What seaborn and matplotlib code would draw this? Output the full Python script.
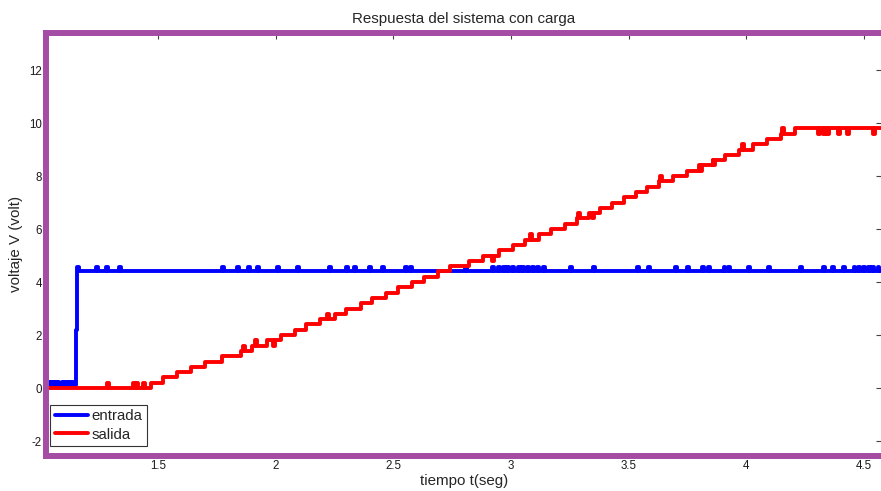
import numpy as np
import pandas as pd
import matplotlib
matplotlib.use("Agg")
import matplotlib.pyplot as plt
import seaborn as sns

# ---- data -------------------------------------------------------------
T_MIN, T_MAX = 1.022, 4.578

# input (entrada): step levels and the instants they start
entrada_step_t = [1.022, 1.1485, 1.155, 1.161]
entrada_step_v = [0.10, 2.20, 4.58, 4.40]
# short noise pulses on the input signal
entrada_pulse_t = [1.035, 1.048, 1.062, 1.071, 1.088, 1.104, 1.118, 1.132,
                   1.235, 1.277, 1.333, 1.771, 1.835, 1.882, 1.920, 2.005,
                   2.090, 2.226, 2.299, 2.333, 2.397, 2.452, 2.550, 2.571,
                   2.805, 2.920, 2.946, 2.967, 2.984, 3.005, 3.031, 3.048,
                   3.069, 3.090, 3.112, 3.137, 3.252, 3.350, 3.537, 3.584,
                   3.699, 3.750, 3.814, 3.840, 3.904, 3.925, 4.010, 4.095,
                   4.231, 4.329, 4.367, 4.414, 4.457, 4.478, 4.499, 4.520,
                   4.537, 4.559]
entrada_pulse_v = [0.22] * 8 + [4.58] * 50

# output (salida): quantised staircase ramp
salida_step_t = [1.022, 1.468, 1.52, 1.58, 1.64, 1.70, 1.77, 1.85, 1.90, 1.96,
                 2.02, 2.08, 2.13, 2.19, 2.25, 2.30, 2.36, 2.41, 2.47, 2.52,
                 2.58, 2.63, 2.69, 2.74, 2.82, 2.88, 2.95, 3.01, 3.06, 3.12,
                 3.17, 3.23, 3.28, 3.33, 3.38, 3.43, 3.48, 3.53, 3.58, 3.63,
                 3.69, 3.75, 3.80, 3.86, 3.91, 3.97, 4.03, 4.09, 4.15, 4.21]
salida_step_v = [0.0, 0.2, 0.4, 0.6, 0.8, 1.0, 1.2, 1.4, 1.6, 1.8,
                 2.0, 2.2, 2.4, 2.6, 2.8, 3.0, 3.2, 3.4, 3.6, 3.8,
                 4.0, 4.2, 4.4, 4.6, 4.8, 5.0, 5.2, 5.4, 5.6, 5.8,
                 6.0, 6.2, 6.4, 6.6, 6.8, 7.0, 7.2, 7.4, 7.6, 7.8,
                 8.0, 8.2, 8.4, 8.6, 8.8, 9.0, 9.2, 9.4, 9.6, 9.8]
# single-sample glitches on the output
salida_pulse_t = [1.282, 1.393, 1.406, 1.435, 1.860, 1.911, 1.988, 2.188,
                  2.218, 2.920, 3.082, 3.286, 3.345, 3.634, 3.805, 3.860,
                  3.983, 4.153, 4.306, 4.328, 4.345, 4.391, 4.430, 4.540]
salida_pulse_v = [0.2, 0.2, 0.2, 0.2, 1.6, 1.8, 1.6, 2.6,
                  2.8, 4.8, 5.8, 6.6, 6.4, 8.0, 8.2, 8.4,
                  9.2, 9.8, 9.6, 9.6, 9.6, 9.6, 9.6, 9.6]

x_ticks = [1.5, 2, 2.5, 3, 3.5, 4, 4.5]
x_tick_labels = ["1.5", "2", "2.5", "3", "3.5", "4", "4.5"]
y_ticks = [-2, 0, 2, 4, 6, 8, 10, 12]
y_tick_labels = ["-2", "0", "2", "4", "6", "8", "10", "12"]


def sampled_signal(step_t, step_v, pulse_t, pulse_v, dur, t_end):
    """Merge step levels and short pulses into one sample-and-hold trace."""
    step_t = np.asarray(step_t, float)
    step_v = np.asarray(step_v, float)

    def level(t):
        return step_v[np.searchsorted(step_t, t, side="right") - 1]

    times = list(step_t)
    vals = list(step_v)
    for t, v in zip(pulse_t, pulse_v):
        times += [t, t + dur]
        vals += [v, level(t + dur)]
    times.append(t_end)
    vals.append(level(t_end))
    order = np.argsort(times, kind="stable")
    return np.asarray(times)[order], np.asarray(vals)[order]


t_in, v_in = sampled_signal(entrada_step_t, entrada_step_v,
                            entrada_pulse_t, entrada_pulse_v, 0.007, T_MAX)
t_out, v_out = sampled_signal(salida_step_t, salida_step_v,
                              salida_pulse_t, salida_pulse_v, 0.007, T_MAX)

df = pd.concat([
    pd.DataFrame({"t": t_in, "v": v_in, "serie": "entrada"}),
    pd.DataFrame({"t": t_out, "v": v_out, "serie": "salida"}),
], ignore_index=True)

# ---- figure -----------------------------------------------------------
sns.set_style("white")
plt.rcParams["font.family"] = ["Liberation Sans", "DejaVu Sans"]

W, H = 881, 491
fig = plt.figure(figsize=(W / 100, H / 100), dpi=100)
ax = fig.add_axes([46 / W, 35.5 / H, 836 / W, 422.5 / H])

sns.lineplot(data=df, x="t", y="v", hue="serie",
             palette={"entrada": "#0000FF", "salida": "#FF0000"},
             sort=False, estimator=None, drawstyle="steps-post",
             linewidth=2.8, ax=ax)

ax.set_xlim(T_MIN, T_MAX)
ax.set_ylim(-2.547, 13.40)
ax.set_xticks(x_ticks)
ax.set_xticklabels(x_tick_labels)
ax.set_yticks(y_ticks)
ax.set_yticklabels(y_tick_labels)
ax.tick_params(direction="in", top=True, right=True, length=4.5, width=0.8,
               color="#444444", labelsize=8.3, labelcolor="#1a1a1a", pad=3)

purple = "#A54CA5"
for side in ("top", "left", "bottom"):
    ax.spines[side].set_color(purple)
    ax.spines[side].set_linewidth(4.3)
ax.spines["right"].set_visible(False)

ax.set_title("Respuesta del sistema con carga", fontsize=10.9, pad=7)
ax.set_xlabel("tiempo t(seg)", fontsize=10.9, labelpad=2)
ax.set_ylabel("voltaje V (volt)", fontsize=10.9, labelpad=4)

handles, labels = ax.get_legend_handles_labels()
leg = ax.legend(handles, labels, loc="lower left",
                bbox_to_anchor=(0.005, 0.022), borderaxespad=0,
                fontsize=10.8, frameon=True, fancybox=False,
                edgecolor="black", handlelength=2.2, handletextpad=0.25,
                borderpad=0.3, labelspacing=0.3)
leg.get_frame().set_linewidth(0.8)
for line in leg.get_lines():
    line.set_linewidth(2.8)

fig.savefig("out.png", dpi=100)
